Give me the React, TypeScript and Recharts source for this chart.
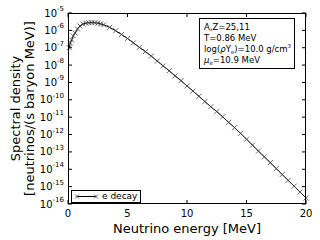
import React from 'react';
import { LineChart, Line, XAxis, YAxis } from 'recharts';

const energies = [0.1, 0.2, 0.3, 0.45, 0.6, 0.8, 1.0, 1.25, 1.5, 1.75, 2.0, 2.25, 2.5, 2.75, 3.0, 3.5, 4.0, 4.5, 5.0, 5.5, 6.0, 6.5, 7.0, 7.5, 8.0, 8.5, 9.0, 9.5, 10.0, 10.5, 11.0, 11.5, 12.0, 12.5, 13.0, 13.5, 14.0, 14.5, 15.0, 15.5, 16.0, 16.5, 17.0, 17.5, 18.0, 18.5, 19.0, 19.5, 20.0];
const spectrum = [1.0e-7, 1.9e-7, 2.8e-7, 4.8e-7, 7.0e-7, 1.2e-6, 1.8e-6, 2.3e-6, 2.6e-6, 2.75e-6, 2.8e-6, 2.75e-6, 2.6e-6, 2.35e-6, 2.1e-6, 1.5e-6, 9.5e-7, 5.8e-7, 3.4e-7, 1.9e-7, 1.05e-7, 6.0e-8, 3.3e-8, 1.7e-8, 8.9e-9, 4.7e-9, 2.4e-9, 1.26e-9, 6.3e-10, 3.2e-10, 1.6e-10, 7.9e-11, 4.0e-11, 2.1e-11, 1.05e-11, 5.0e-12, 2.5e-12, 1.17e-12, 5.4e-13, 2.45e-13, 1.12e-13, 5.2e-14, 2.4e-14, 1.1e-14, 5.0e-15, 2.3e-15, 1.07e-15, 4.9e-16, 2.2e-16];
const yTicks = [1e-16, 1e-15, 1e-14, 1e-13, 1e-12, 1e-11, 1e-10, 1e-9, 1e-8, 1e-7, 1e-6, 1e-5];
const xTicks = [0, 5, 10, 15, 20];
const xLabel = 'Neutrino energy [MeV]';
const yLabelLines = ['Spectral density', '[neutrinos/(s baryon MeV)]'];
const legendLabel = 'e decay';

const data = energies.map((e, i) => ({ e, v: spectrum[i] }));

const FONT = '"DejaVu Sans", sans-serif';
const PL = 68;
const PT = 13;
const PW = 238;
const PH = 191;

const YTick = (props: any) => {
  const { y, payload } = props;
  const exp = Math.round(Math.log10(payload.value));
  return (
    <g>
      <line x1={PL} x2={PL + 4} y1={y} y2={y} stroke="#000" strokeWidth={1} />
      <line x1={PL + PW - 4} x2={PL + PW} y1={y} y2={y} stroke="#000" strokeWidth={1} />
      <text x={PL - 4} y={y} textAnchor="end" dominantBaseline="central" fontFamily={FONT} fontSize={10} fill="#000">
        10<tspan dy={-4} fontSize={7}>{String(exp)}</tspan>
      </text>
    </g>
  );
};

const XTick = (props: any) => {
  const { x, payload } = props;
  return (
    <g>
      <line x1={x} x2={x} y1={PT + PH} y2={PT + PH - 4} stroke="#000" strokeWidth={1} />
      <line x1={x} x2={x} y1={PT} y2={PT + 4} stroke="#000" strokeWidth={1} />
      <text x={x} y={PT + PH + 13} textAnchor="middle" fontFamily={FONT} fontSize={10} fill="#000">
        {payload.value}
      </text>
    </g>
  );
};

const CrossDot = (props: any) => {
  const { cx, cy } = props;
  if (cx == null || cy == null) return null;
  const s = 2.5;
  return (
    <g>
      <line x1={cx - s} y1={cy - s} x2={cx + s} y2={cy + s} stroke="#444" strokeWidth={0.8} />
      <line x1={cx - s} y1={cy + s} x2={cx + s} y2={cy - s} stroke="#444" strokeWidth={0.8} />
    </g>
  );
};

const YTitle = () => (
  <g>
    <text transform={`translate(15, ${PT + PH / 2}) rotate(-90)`} textAnchor="middle" dominantBaseline="central" fontFamily={FONT} fontSize={13} fill="#000">
      {yLabelLines[0]}
    </text>
    <text transform={`translate(29, ${PT + PH / 2}) rotate(-90)`} textAnchor="middle" dominantBaseline="central" fontFamily={FONT} fontSize={13} fill="#000">
      {yLabelLines[1]}
    </text>
  </g>
);

const subStyle: React.CSSProperties = { fontSize: 5.5, lineHeight: 0, verticalAlign: '-2px' };
const supStyle: React.CSSProperties = { fontSize: 5.5, lineHeight: 0, verticalAlign: '4px' };
const lineStyle: React.CSSProperties = { height: 11, lineHeight: '11px' };

export default function App() {
  return (
    <div style={{ position: 'absolute', left: 0, top: 0, width: 320, height: 240, background: '#fff' }}>
      <LineChart width={320} height={240} data={data} margin={{ top: PT, right: 320 - PL - PW, left: 0, bottom: 0 }}>
        <XAxis
          dataKey="e"
          type="number"
          domain={[0, 20]}
          ticks={xTicks}
          interval={0}
          height={240 - PT - PH}
          tickLine={false}
          axisLine={false}
          tick={<XTick />}
          label={{ value: xLabel, position: 'insideBottom', offset: 7, fontFamily: FONT, fontSize: 13, fill: '#000' }}
        />
        <YAxis
          type="number"
          scale="log"
          domain={[1e-16, 1e-5]}
          ticks={yTicks}
          interval={0}
          allowDataOverflow
          width={PL}
          tickLine={false}
          axisLine={false}
          tick={<YTick />}
          label={<YTitle />}
        />
        <Line
          type="linear"
          dataKey="v"
          stroke="#000"
          strokeWidth={1}
          dot={<CrossDot />}
          isAnimationActive={false}
        />
      </LineChart>
      <div style={{ position: 'absolute', left: PL, top: PT, width: PW, height: PH, boxSizing: 'border-box', border: '1px solid #000', pointerEvents: 'none' }} />
      <div style={{ position: 'absolute', left: 199, top: 18, width: 96, height: 51, boxSizing: 'border-box', border: '1px solid #000', background: '#fff', fontFamily: FONT, fontSize: 8.5, padding: '3px 0 0 4px', color: '#000', whiteSpace: 'nowrap' }}>
        <div style={lineStyle}>A,Z=25,11</div>
        <div style={lineStyle}>T=0.86 MeV</div>
        <div style={lineStyle}>log(<i>ρ</i>Y<span style={subStyle}>e</span>)=10.0 g/cm<span style={supStyle}>3</span></div>
        <div style={lineStyle}><i>μ</i><span style={subStyle}>e</span>=10.9 MeV</div>
      </div>
      <div style={{ position: 'absolute', left: 71, top: 190, width: 70, height: 13, boxSizing: 'border-box', border: '1px solid #000', background: '#fff', fontFamily: FONT, fontSize: 9, color: '#000', whiteSpace: 'nowrap' }}>
        <svg width={26} height={11} style={{ position: 'absolute', left: 2, top: 0 }}>
          <line x1={3} x2={22} y1={5.5} y2={5.5} stroke="#000" strokeWidth={1} />
          <line x1={1} x2={5} y1={3.5} y2={7.5} stroke="#444" strokeWidth={0.8} />
          <line x1={1} x2={5} y1={7.5} y2={3.5} stroke="#444" strokeWidth={0.8} />
          <line x1={20} x2={24} y1={3.5} y2={7.5} stroke="#444" strokeWidth={0.8} />
          <line x1={20} x2={24} y1={7.5} y2={3.5} stroke="#444" strokeWidth={0.8} />
        </svg>
        <span style={{ position: 'absolute', left: 30, top: -1, lineHeight: '12px' }}>{legendLabel}</span>
      </div>
    </div>
  );
}
